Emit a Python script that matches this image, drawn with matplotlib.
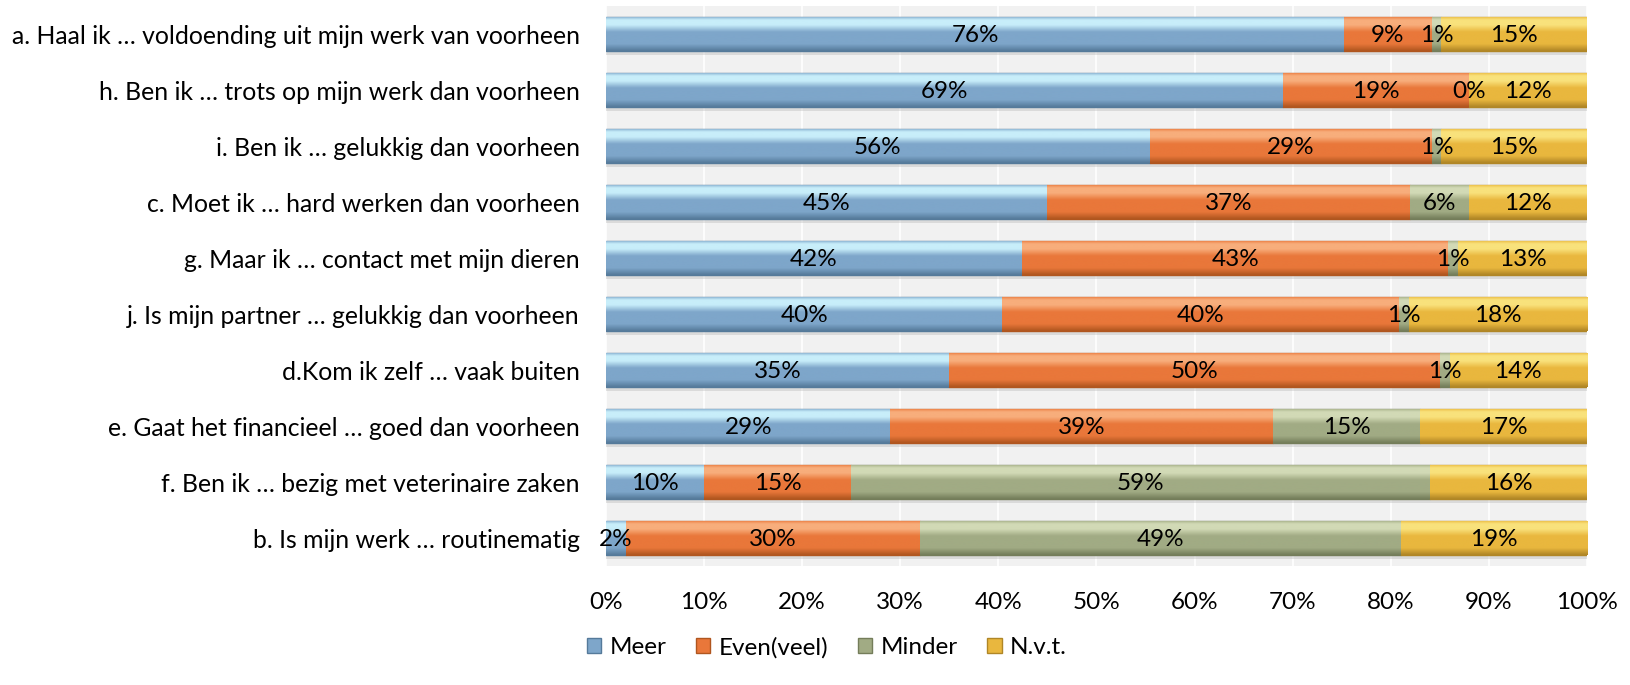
import numpy as np
import matplotlib.pyplot as plt
from matplotlib.colors import LinearSegmentedColormap
from matplotlib.ticker import PercentFormatter

plt.rcParams['font.family'] = ['Lato', 'DejaVu Sans']

vragen = [
    "a. Haal ik … voldoending uit mijn werk van voorheen",
    "h. Ben ik … trots op mijn werk dan voorheen",
    "i. Ben ik … gelukkig dan voorheen",
    "c. Moet ik … hard werken dan voorheen",
    "g. Maar ik … contact met mijn dieren",
    "j. Is mijn partner … gelukkig dan voorheen",
    "d.Kom ik zelf … vaak buiten",
    "e. Gaat het financieel … goed dan voorheen",
    "f. Ben ik … bezig met veterinaire zaken",
    "b. Is mijn werk … routinematig",
]
meer = [76, 69, 56, 45, 42, 40, 35, 29, 10, 2]
even = [9, 19, 29, 37, 43, 40, 50, 39, 15, 30]
minder = [1, 0, 1, 6, 1, 1, 1, 15, 59, 49]
nvt = [15, 12, 15, 12, 13, 18, 14, 17, 16, 19]

reeksen = ["Meer", "Even(veel)", "Minder", "N.v.t."]
kleuren = ["#7ea6ca", "#e9773a", "#a1ab84", "#e9b73e"]
donker = ["#557a9a", "#b0561f", "#747d5a", "#b08626"]
licht = ["#c8eefa", "#f8ae7c", "#d2dab6", "#f9e27c"]

data = np.array([meer, even, minder, nvt], dtype=float)
aandeel = data / data.sum(axis=0) * 100

fig = plt.figure(figsize=(16.31, 6.85), dpi=100)
ax = fig.add_axes([606 / 1631, 1 - 566 / 685, (1587 - 606) / 1631, 560 / 685])
ax.set_facecolor("#f1f1f1")

y = np.arange(len(vragen))[::-1]
links = np.zeros(len(vragen))
h = 0.62
verloop = np.linspace(0, 1, 64).reshape(-1, 1)
for i in range(4):
    cmap = LinearSegmentedColormap.from_list(
        reeksen[i],
        [(0, kleuren[i]), (0.1, licht[i]), (0.25, licht[i]), (0.45, kleuren[i]),
         (0.8, kleuren[i]), (1, donker[i])])
    # schaduw
    ax.barh(y - 0.06, aandeel[i], left=links, height=h, color="#b0b0b0",
            alpha=0.35, linewidth=0, zorder=2)
    balken = ax.barh(y, aandeel[i], left=links, height=h, facecolor=kleuren[i],
                     edgecolor=donker[i], linewidth=1.0, label=reeksen[i], zorder=3)
    for p in balken.patches:
        b = p.get_bbox()
        if b.width <= 0:
            continue
        im = ax.imshow(verloop, extent=[b.x0, b.x1, b.y0, b.y1], aspect="auto",
                       cmap=cmap, origin="upper", interpolation="bicubic", zorder=3.5)
        im.set_clip_path(p)
    for j in range(len(vragen)):
        ax.text(links[j] + aandeel[i][j] / 2, y[j] - 0.03, f"{data[i][j]:.0f}%",
                ha="center", va="center", fontsize=17.5, color="black", zorder=5)
    links += aandeel[i]

ax.set_xlim(0, 100)
ax.set_ylim(-0.5, len(vragen) - 0.5)
ax.set_aspect("auto")
ax.set_yticks(y)
ax.set_yticklabels(vragen, fontsize=17.8)
ax.xaxis.set_major_formatter(PercentFormatter(decimals=0))
ax.set_xticks(np.arange(0, 101, 10))
ax.tick_params(axis="x", labelsize=17.5, length=0, pad=19)
ax.tick_params(axis="y", length=0, pad=19)
ax.grid(axis="x", color="white", linewidth=1.2, zorder=0)
for s in ax.spines.values():
    s.set_visible(False)

fig.legend(*ax.get_legend_handles_labels(), loc="center", bbox_to_anchor=(0.507, 0.055),
           ncol=4, frameon=False, fontsize=17.5, handlelength=0.6, handleheight=0.6,
           handletextpad=0.35, columnspacing=1.2)

fig.savefig("out.png", dpi=100)
